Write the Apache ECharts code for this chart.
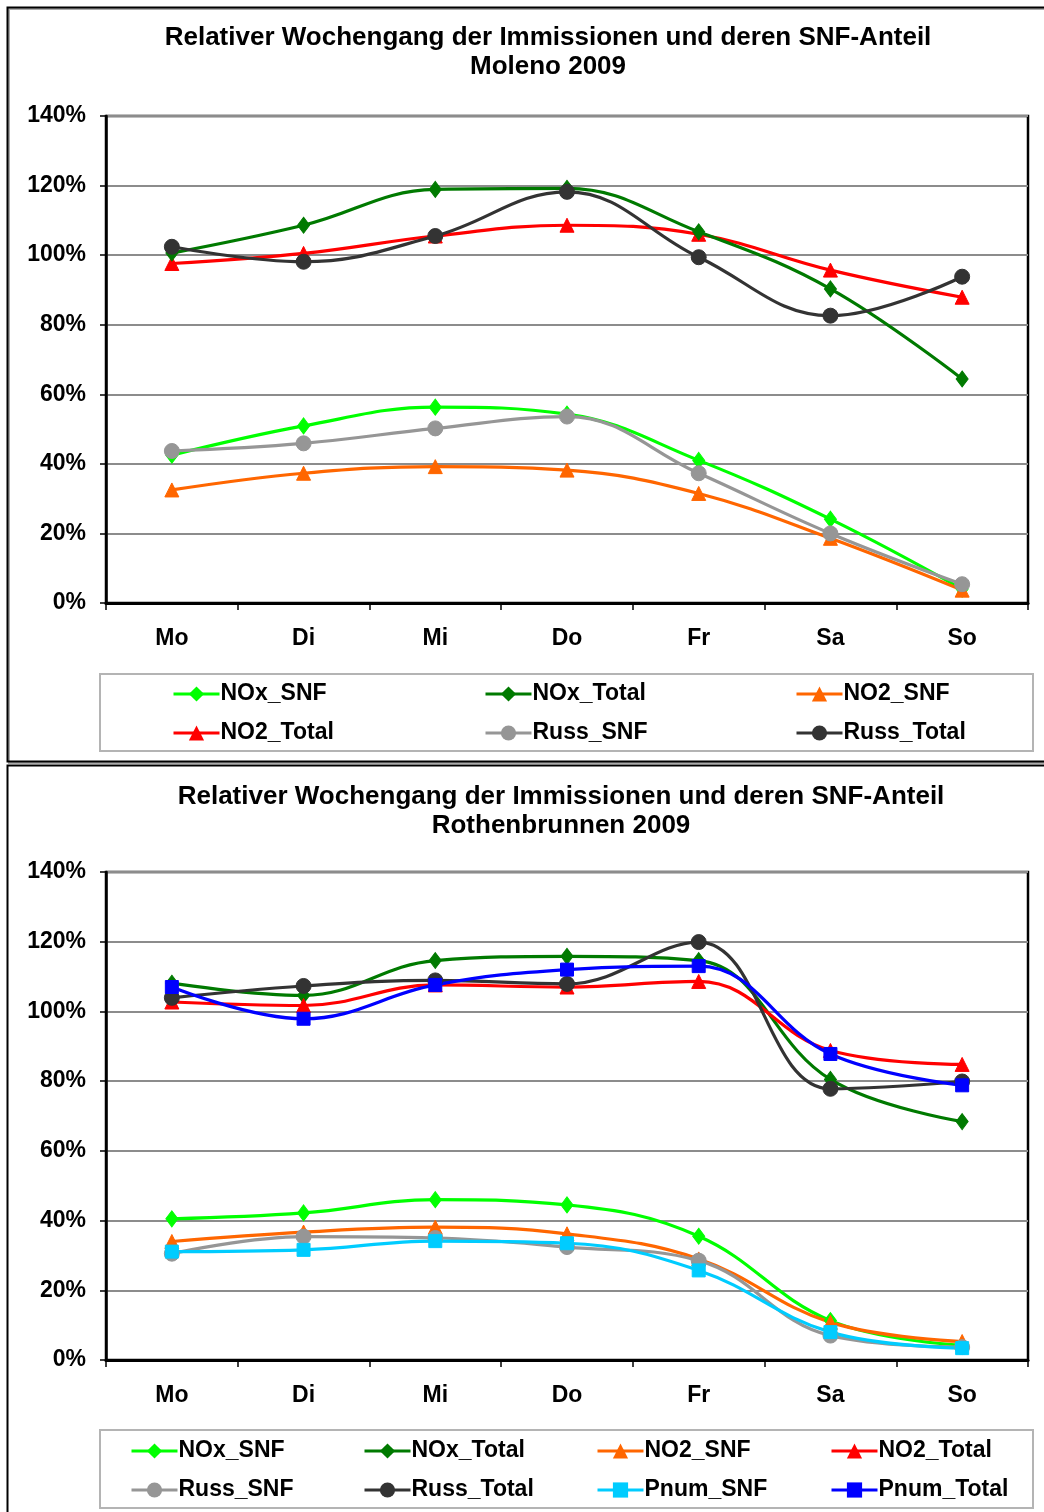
<!DOCTYPE html>
<html>
<head>
<meta charset="utf-8">
<style>
html,body{margin:0;padding:0;background:#fff;}
#c{width:1044px;height:1512px;}
</style>
<script src="https://cdn.jsdelivr.net/npm/echarts@6/dist/echarts.min.js"></script>
</head>
<body>
<div id="c"></div>
<script>
// ---- data ----
const days = ['Mo','Di','Mi','Do','Fr','Sa','So'];
const yTicks = [0, 20, 40, 60, 80, 100, 120, 140];

const title1 = ['Relativer Wochengang der Immissionen und deren SNF-Anteil', 'Moleno 2009'];
const title2 = ['Relativer Wochengang der Immissionen und deren SNF-Anteil', 'Rothenbrunnen 2009'];

// Moleno 2009 (percent)
const m_NOx_SNF    = [42.5, 50.9, 56.3, 54.3, 41.0, 24.1, 4.0];
const m_NOx_Total  = [100.6, 108.6, 118.9, 119.2, 106.7, 90.3, 64.4];
const m_NO2_SNF    = [32.5, 37.3, 39.2, 38.2, 31.5, 18.6, 3.7];
const m_NO2_Total  = [97.6, 100.5, 105.5, 108.6, 106.0, 95.7, 87.9];
const m_Russ_SNF   = [43.7, 45.9, 50.2, 53.6, 37.3, 20.0, 5.4];
const m_Russ_Total = [102.4, 98.1, 105.5, 118.2, 99.4, 82.6, 93.8];

// Rothenbrunnen 2009 (percent)
const r_NOx_SNF    = [40.5, 42.2, 46.0, 44.5, 35.5, 11.3, 4.2];
const r_NOx_Total  = [108.1, 104.6, 114.6, 115.8, 114.6, 80.5, 68.4];
const r_NO2_SNF    = [34.0, 36.7, 38.1, 36.2, 29.0, 10.8, 5.3];
const r_NO2_Total  = [102.7, 101.7, 107.6, 107.0, 108.6, 88.8, 84.8];
const r_Russ_SNF   = [30.5, 35.4, 35.0, 32.4, 28.5, 7.0, 3.7];
const r_Russ_Total = [103.9, 107.3, 108.9, 107.9, 119.9, 77.8, 79.9];
const r_Pnum_SNF   = [31.1, 31.6, 34.1, 33.5, 25.7, 8.0, 3.4];
const r_Pnum_Total = [107.0, 97.9, 107.6, 112.0, 113.0, 87.8, 78.8];

// ---- styles ----
const FONT = '"Liberation Sans", Arial, sans-serif';
const sty = {
  NOx_SNF:    {color:'#00FF00', symbol:'diamond', size:[12,16]},
  NOx_Total:  {color:'#007A00', symbol:'diamond', size:[12,16]},
  NO2_SNF:    {color:'#FF6600', symbol:'triangle', size:[14,14]},
  NO2_Total:  {color:'#FF0000', symbol:'triangle', size:[14,14]},
  Russ_SNF:   {color:'#969696', symbol:'circle', size:[15,15]},
  Russ_Total: {color:'#333333', symbol:'circle', size:[15,15]},
  Pnum_SNF:   {color:'#00CCFF', symbol:'rect', size:[13,13]},
  Pnum_Total: {color:'#0000FF', symbol:'rect', size:[13,13]}
};

function mkSeries(name, data, idx) {
  const s = sty[name];
  return {
    name: name, type: 'line', data: data,
    xAxisIndex: idx, yAxisIndex: idx,
    smooth: 0.4,
    symbol: s.symbol, symbolSize: s.size, showSymbol: true,
    lineStyle: {color: s.color, width: 3.2},
    itemStyle: {color: s.color, borderColor: s.color},
    animation: false
  };
}

const series = [
  mkSeries('NOx_SNF', m_NOx_SNF, 0),
  mkSeries('NO2_SNF', m_NO2_SNF, 0),
  mkSeries('Russ_SNF', m_Russ_SNF, 0),
  mkSeries('NO2_Total', m_NO2_Total, 0),
  mkSeries('NOx_Total', m_NOx_Total, 0),
  mkSeries('Russ_Total', m_Russ_Total, 0),
  mkSeries('NOx_SNF', r_NOx_SNF, 1),
  mkSeries('NO2_SNF', r_NO2_SNF, 1),
  mkSeries('Russ_SNF', r_Russ_SNF, 1),
  mkSeries('Pnum_SNF', r_Pnum_SNF, 1),
  mkSeries('NOx_Total', r_NOx_Total, 1),
  mkSeries('NO2_Total', r_NO2_Total, 1),
  mkSeries('Russ_Total', r_Russ_Total, 1),
  mkSeries('Pnum_Total', r_Pnum_Total, 1)
];

function legendItem(name, x, yc) {
  return {
    data: [name], left: x, top: yc - 12, padding: 0,
    itemWidth: 46, itemHeight: 19, itemGap: 0,
    selectedMode: false,
    lineStyle: {width: 3},
    textStyle: {fontFamily: FONT, fontSize: 23, fontWeight: 'bold', color: '#000', lineHeight: 24, padding: [0,0,0,-4]}
  };
}

const legends = [
  legendItem('NOx_SNF', 172, 694),
  legendItem('NOx_Total', 484, 694),
  legendItem('NO2_SNF', 795, 694),
  legendItem('NO2_Total', 172, 733),
  legendItem('Russ_SNF', 484, 733),
  legendItem('Russ_Total', 795, 733),
  legendItem('NOx_SNF', 130, 1451),
  legendItem('NOx_Total', 363, 1451),
  legendItem('NO2_SNF', 596, 1451),
  legendItem('NO2_Total', 830, 1451),
  legendItem('Russ_SNF', 130, 1490),
  legendItem('Russ_Total', 363, 1490),
  legendItem('Pnum_SNF', 596, 1490),
  legendItem('Pnum_Total', 830, 1490)
];

function xAx(gi) {
  return {
    type: 'category', data: days, gridIndex: gi, boundaryGap: true,
    axisLine: {lineStyle: {color: '#000', width: 3}},
    axisTick: {show: true, length: 7, inside: false, lineStyle: {color: '#000', width: 1.5}},
    axisLabel: {fontFamily: FONT, fontSize: 23, fontWeight: 'bold', color: '#000', margin: 24},
    splitLine: {show: false}
  };
}
function yAx(gi) {
  return {
    type: 'value', gridIndex: gi, min: yTicks[0], max: yTicks[yTicks.length-1], interval: 20,
    axisLine: {show: true, lineStyle: {color: '#000', width: 2.5}},
    axisTick: {show: true, length: 6, inside: false, lineStyle: {color: '#000', width: 1.5}},
    axisLabel: {fontFamily: FONT, fontSize: 23, fontWeight: 'bold', color: '#000', margin: 20, formatter: '{value}%'},
    splitLine: {show: true, lineStyle: {color: '#8c8c8c', width: 2}}
  };
}

function titleText(lines, cx, y1, y2) {
  return [
    {type: 'text', x: cx, y: y1, style: {text: lines[0], x: 0, y: 0, textAlign: 'center', textVerticalAlign: 'middle', font: 'bold 26px ' + FONT, fill: '#000'}},
    {type: 'text', x: cx, y: y2, style: {text: lines[1], x: 0, y: 0, textAlign: 'center', textVerticalAlign: 'middle', font: 'bold 26px ' + FONT, fill: '#000'}}
  ];
}

const graphics = [
  {type: 'rect', shape: {x: 9, y: 9, width: 1060, height: 754}, style: {fill: null, stroke: '#aaaaaa', lineWidth: 2}, z: -11},
  {type: 'rect', shape: {x: 7.5, y: 7.5, width: 1060, height: 754}, style: {fill: null, stroke: '#000', lineWidth: 2}, z: -10},
  {type: 'rect', shape: {x: 7.5, y: 765.5, width: 1060, height: 780}, style: {fill: null, stroke: '#000', lineWidth: 2}, z: -10},
  {type: 'rect', shape: {x: 100, y: 674, width: 933, height: 77}, style: {fill: null, stroke: '#b4b4b4', lineWidth: 2}, z: -10},
  {type: 'rect', shape: {x: 100, y: 1430, width: 933, height: 78}, style: {fill: null, stroke: '#b4b4b4', lineWidth: 2}, z: -10}
].concat(titleText(title1, 548, 38, 67)).concat(titleText(title2, 561, 797, 826));

const option = {
  backgroundColor: '#fff',
  animation: false,
  grid: [
    {left: 106, right: 16, top: 116, height: 487, show: true, borderColor: '#000', borderWidth: 2.5, containLabel: false},
    {left: 106, right: 16, top: 872, height: 488, show: true, borderColor: '#000', borderWidth: 2.5, containLabel: false}
  ],
  xAxis: [xAx(0), xAx(1)],
  yAxis: [yAx(0), yAx(1)],
  legend: legends,
  graphic: graphics,
  series: series
};

const chart = echarts.init(document.getElementById('c'), null, {renderer: 'canvas'});
chart.setOption(option);
</script>
</body>
</html>
